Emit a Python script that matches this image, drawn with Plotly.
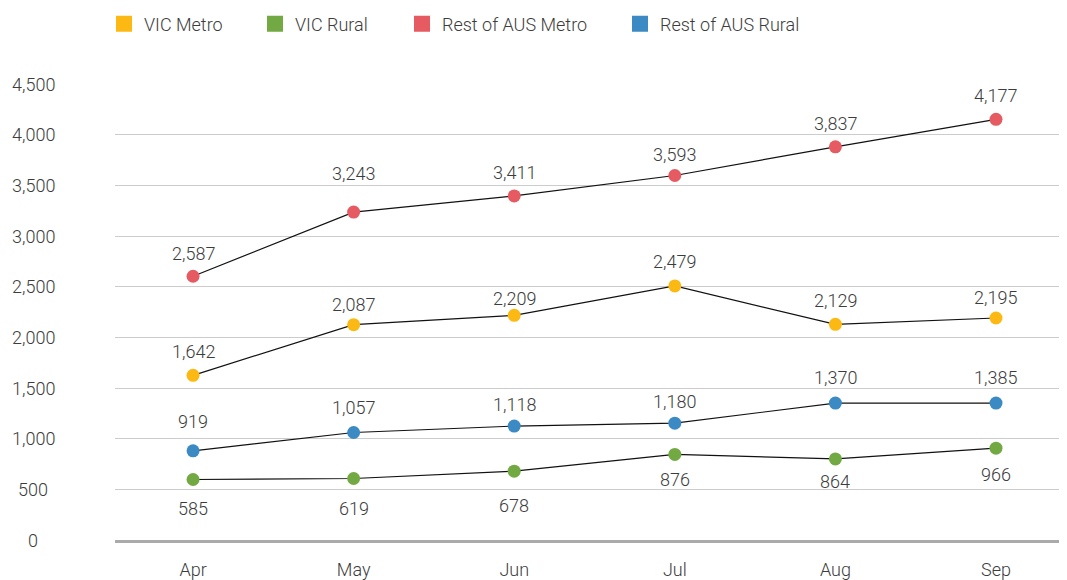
import plotly.graph_objects as go

months = ["Apr", "May", "Jun", "Jul", "Aug", "Sep"]
series_names = ["VIC Metro", "VIC Rural", "Rest of AUS Metro", "Rest of AUS Rural"]
colors = ["#FDB913", "#72A943", "#E65A62", "#3B8AC4"]

# plotted positions
vic_metro = [1625, 2125, 2217, 2507, 2128, 2191]
vic_rural = [597, 607, 679, 844, 800, 906]
rest_metro = [2603, 3236, 3395, 3597, 3880, 4151]
rest_rural = [880, 1061, 1124, 1153, 1351, 1351]

# data labels as printed
vic_metro_lbl = [1642, 2087, 2209, 2479, 2129, 2195]
vic_rural_lbl = [585, 619, 678, 876, 864, 966]
rest_metro_lbl = [2587, 3243, 3411, 3593, 3837, 4177]
rest_rural_lbl = [919, 1057, 1118, 1180, 1370, 1385]

y_ticks = [0, 500, 1000, 1500, 2000, 2500, 3000, 3500, 4000, 4500]
y_tick_labels = ["0", "500", "1,000", "1,500", "2,000", "2,500", "3,000", "3,500", "4,000", "4,500"]

# label placement offsets (px, styling)
vic_metro_off = [24, 20, 17, 24, 24, 20]
vic_rural_off = [-29, -30, -34, -25, -23, -26]
rest_metro_off = [23, 39, 23, 21, 23, 24]
rest_rural_off = [29, 25, 22, 22, 26, 26]

FONT = "Roboto"
TXT = "#3c3c3c"
FW = 300

# page body has an 8px default margin; compensate
OFF = 8
W, H = 1067, 580

fig = go.Figure()

data = [
    (vic_metro, vic_metro_lbl, vic_metro_off),
    (vic_rural, vic_rural_lbl, vic_rural_off),
    (rest_metro, rest_metro_lbl, rest_metro_off),
    (rest_rural, rest_rural_lbl, rest_rural_off),
]

for (vals, lbls, offs), name, col in zip(data, series_names, colors):
    fig.add_trace(go.Scatter(
        x=months, y=vals, mode="lines+markers",
        line=dict(color="#111111", width=1.2),
        marker=dict(color=col, size=13),
        showlegend=False, cliponaxis=False, name=name,
    ))
    for m, v, l, s in zip(months, vals, lbls, offs):
        fig.add_annotation(x=m, y=v, text=f"{l:,}", showarrow=False,
                           yshift=s, xanchor="center", yanchor="middle",
                           font=dict(family=FONT, size=18, color=TXT, weight=FW))

legend_x = [117, 268, 415, 633]  # page x of legend squares
legend_ids = ["legend", "legend2", "legend3", "legend4"]
legend_layout = {}
for name, col, lx, lid in zip(series_names, colors, legend_x, legend_ids):
    fig.add_trace(go.Scatter(
        x=[None], y=[None], mode="markers", name=name,
        marker=dict(color=col, size=17, symbol="square"),
        showlegend=True, legend=lid,
    ))
    legend_layout[lid] = dict(
        orientation="h", x=(lx - 21) / W, xanchor="left",
        y=1 - (24 - OFF) / H, yanchor="middle",
        xref="container", yref="container", bgcolor="rgba(0,0,0,0)",
        font=dict(family=FONT, size=18, color=TXT, weight=FW),
        itemsizing="trace")

for v, t in zip(y_ticks, y_tick_labels):
    fig.add_annotation(x=-0.0854, xref="paper", y=v, yref="y", text=t,
                       showarrow=False, xanchor="center", yanchor="middle",
                       font=dict(family=FONT, size=18, color=TXT, weight=FW))

fig.update_layout(
    width=W, height=H,
    margin=dict(l=115 - OFF, r=0, t=84 - OFF, b=H - 540 + OFF, autoexpand=False),
    paper_bgcolor="white", plot_bgcolor="white",
    font=dict(family=FONT, size=18, color=TXT, weight=FW),
    xaxis=dict(range=[-0.486, 5.492], showgrid=False, showline=True,
               linecolor="#aaaaaa", linewidth=3, ticks="", zeroline=False,
               ticklabelstandoff=11,
               tickfont=dict(family=FONT, size=18, color=TXT, weight=FW)),
    yaxis=dict(range=[0, 4500], tickvals=y_ticks, showticklabels=False,
               gridcolor="#cccccc", gridwidth=1, zeroline=False, showline=False),
    **legend_layout,
)

fig.write_html("out.html")
